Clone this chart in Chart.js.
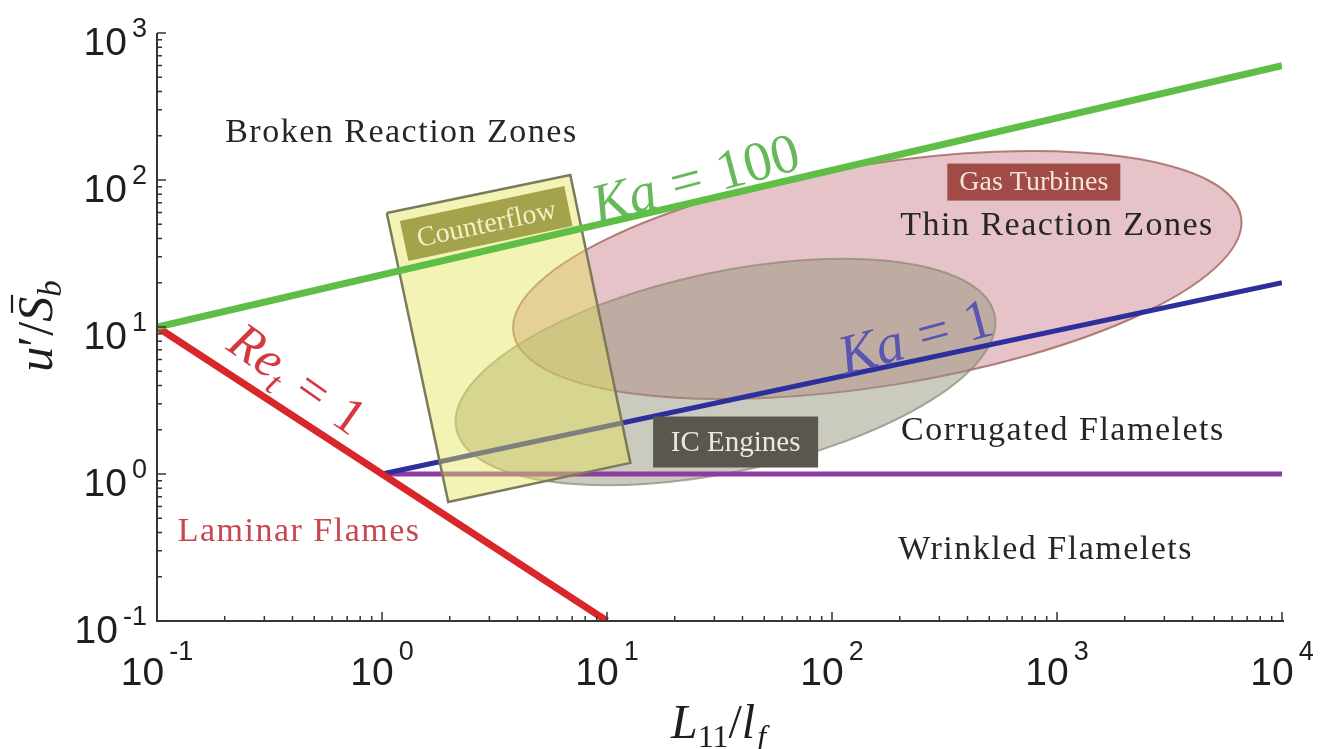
<!DOCTYPE html>
<html lang="en">
<head>
<meta charset="UTF-8">
<title>Premixed combustion regimes</title>
<script src="https://cdn.jsdelivr.net/npm/chart.js"></script>
<style>
  html, body { margin: 0; padding: 0; background: #fff; }
  #regime { display: block; }
</style>
</head>
<body>
<canvas id="regime" width="1321" height="749"></canvas>
<script>
// decades shown on the axes
const xDecades = [0.1, 1, 10, 100, 1000, 10000];
const yDecades = [0.1, 1, 10, 100, 1000];

// regime boundaries, L11/lf and u'/Sb at both ends
const ka100L = [0.1, 10000];
const ka100U = [10, 600];
const ka1L = [1, 10000];
const ka1U = [1, 20];
const reL = [0.1, 10];
const reU = [10, 0.1];
const flameletL = [1, 10000];
const flameletU = [1, 1];

// counterflow window, corners (closed)
const counterflowL = [1.05, 6.87, 12.7, 1.97, 1.05];
const counterflowU = [59.7, 108, 1.19, 0.645, 59.7];
const counterflowTagL = [1.2, 6.46, 7.02, 1.31, 1.2];
const counterflowTagU = [52.6, 91, 48.6, 28.1, 52.6];

// devices: ends of the long axis of each ellipse
const gasTurbineL = [3.84, 6580];
const gasTurbineU = [9.1, 56];
const icEngineL = [2.14, 528];
const icEngineU = [2.02, 12.1];

function pts(xs, ys) {
    return xs.map((x, i) => ({ x: x, y: ys[i] }));
}

const serif = s => s + 'px "Liberation Serif"';
const serifI = s => 'italic ' + s + 'px "Liberation Serif"';

const regions = [
    { l: gasTurbineL, u: gasTurbineU, halfWidth: 0.755, fill: 'rgba(200,120,135,0.45)', edge: 'rgba(160,100,90,0.8)' },
    { l: icEngineL, u: icEngineU, halfWidth: 0.68, fill: 'rgba(150,150,125,0.5)', edge: 'rgba(140,135,115,0.7)' }
];

const zoneLabels = [
    { text: 'Broken Reaction Zones', x: 1.22, y: 209, color: '#262626' },
    { text: 'Thin Reaction Zones', x: 1000, y: 48.6, color: '#262626' },
    { text: 'Corrugated Flamelets', x: 1062, y: 1.96, color: '#262626' },
    { text: 'Wrinkled Flamelets', x: 890, y: 0.304, color: '#262626' },
    { text: 'Laminar Flames', x: 0.428, y: 0.4, color: '#c8464f' }
];

const tagBoxes = [
    { text: 'Gas Turbines', x: 789, y: 96.8, w: 173, h: 37, size: 28, bg: '#a04b45', color: '#f3e4dc' },
    { text: 'IC Engines', x: 37.3, y: 1.65, w: 165, h: 51, size: 29, bg: '#5a584e', color: '#ece8dc' }
];

const mathLabels = [
    { x: 24.7, y: 102, angle: -15, color: '#66b85a', pieces: [
        { t: 'Ka', font: serifI(56) }, { t: ' = ', font: serif(56), gap: 4 }, { t: '100', font: serif(56) }] },
    { x: 235, y: 8.55, angle: -15, color: '#5a55b0', pieces: [
        { t: 'Ka', font: serifI(56) }, { t: ' = ', font: serif(56), gap: 4 }, { t: '1', font: serif(56) }] },
    { x: 0.424, y: 4.5, angle: 35, color: '#d23a40', pieces: [
        { t: 'Re', font: serifI(52) }, { t: 't', font: serifI(35), dy: 11 }, { t: ' = ', font: serif(52), gap: 8 }, { t: '1', font: serif(52) }] }
];

function drawPieces(ctx, pieces, cx, cy, angle, color, base) {
    ctx.save();
    ctx.translate(cx, cy);
    ctx.rotate(angle * Math.PI / 180);
    ctx.fillStyle = color;
    ctx.strokeStyle = color;
    ctx.textAlign = 'left';
    ctx.textBaseline = 'alphabetic';
    let total = 0;
    const widths = pieces.map(p => {
        ctx.font = p.font;
        const w = ctx.measureText(p.t).width + (p.gap || 0);
        total += w;
        return w;
    });
    let px = -total / 2;
    pieces.forEach((p, i) => {
        ctx.font = p.font;
        ctx.fillText(p.t, px + (p.gap || 0) / 2, base + (p.dy || 0));
        if (p.bar) {
            ctx.lineWidth = 2.2;
            ctx.beginPath();
            ctx.moveTo(px + 9, base - 40);
            ctx.lineTo(px + widths[i] + 2, base - 40);
            ctx.stroke();
        }
        px += widths[i];
    });
    ctx.restore();
}

// device ellipses under the boundary lines
const regionPlugin = {
    id: 'regions',
    beforeDatasetsDraw(chart) {
        const { ctx, scales: { x, y } } = chart;
        const decade = y.getPixelForValue(1) - y.getPixelForValue(10);
        regions.forEach(r => {
            const x1 = x.getPixelForValue(r.l[0]), y1 = y.getPixelForValue(r.u[0]);
            const x2 = x.getPixelForValue(r.l[1]), y2 = y.getPixelForValue(r.u[1]);
            ctx.save();
            ctx.beginPath();
            ctx.ellipse((x1 + x2) / 2, (y1 + y2) / 2, Math.hypot(x2 - x1, y2 - y1) / 2,
                r.halfWidth * decade, Math.atan2(y2 - y1, x2 - x1), 0, Math.PI * 2);
            ctx.fillStyle = r.fill;
            ctx.fill();
            ctx.lineWidth = 2;
            ctx.strokeStyle = r.edge;
            ctx.stroke();
            ctx.restore();
        });
    }
};

// labels, axes, ticks and titles on top
const annotatePlugin = {
    id: 'annotate',
    afterDatasetsDraw(chart) {
        const { ctx, scales: { x, y } } = chart;

        // counterflow caption, rotated with its window
        drawPieces(ctx, [{ t: 'Counterflow', font: serif(28) }], x.getPixelForValue(2.91), y.getPixelForValue(50.6), -12, '#f4efc8', 9);

        tagBoxes.forEach(b => {
            const cx = x.getPixelForValue(b.x), cy = y.getPixelForValue(b.y);
            ctx.fillStyle = b.bg;
            ctx.fillRect(cx - b.w / 2, cy - b.h / 2, b.w, b.h);
            ctx.font = serif(b.size);
            ctx.fillStyle = b.color;
            ctx.textAlign = 'center';
            ctx.textBaseline = 'middle';
            ctx.fillText(b.text, cx, cy + 1);
        });

        ctx.save();
        ctx.letterSpacing = '1.5px';
        zoneLabels.forEach(l => {
            ctx.font = serif(34);
            ctx.fillStyle = l.color;
            ctx.textAlign = 'center';
            ctx.textBaseline = 'middle';
            ctx.fillText(l.text, x.getPixelForValue(l.x), y.getPixelForValue(l.y));
        });
        ctx.restore();

        mathLabels.forEach(m => {
            drawPieces(ctx, m.pieces, x.getPixelForValue(m.x), y.getPixelForValue(m.y), m.angle, m.color, 18);
        });
    },
    afterDraw(chart) {
        const { ctx, chartArea: { left, right, top, bottom }, scales: { x, y } } = chart;
        ctx.save();
        ctx.strokeStyle = '#353535';
        ctx.lineWidth = 2;
        ctx.beginPath();
        ctx.moveTo(left, top);
        ctx.lineTo(left, bottom);
        ctx.lineTo(right + 2, bottom);
        ctx.stroke();

        ctx.lineWidth = 1.5;
        ctx.beginPath();
        xDecades.forEach((v, i) => {
            const px = x.getPixelForValue(v);
            ctx.moveTo(px, bottom); ctx.lineTo(px, bottom - 9);
            if (i < xDecades.length - 1) {
                for (let m = 2; m < 10; m++) {
                    const mx = x.getPixelForValue(v * m);
                    ctx.moveTo(mx, bottom); ctx.lineTo(mx, bottom - 5);
                }
            }
        });
        yDecades.forEach((v, i) => {
            const py = y.getPixelForValue(v);
            ctx.moveTo(left, py); ctx.lineTo(left + 9, py);
            if (i < yDecades.length - 1) {
                for (let m = 2; m < 10; m++) {
                    const my = y.getPixelForValue(v * m);
                    ctx.moveTo(left, my); ctx.lineTo(left + 5, my);
                }
            }
        });
        ctx.stroke();

        // power-of-ten tick labels
        ctx.fillStyle = '#1e1e1e';
        ctx.textAlign = 'left';
        ctx.textBaseline = 'alphabetic';
        const power = v => String(Math.round(Math.log10(v)));
        const big = '39px "Liberation Sans"', small = '27px "Liberation Sans"';
        const gap = 5;
        xDecades.forEach(v => {
            const px = x.getPixelForValue(v);
            ctx.font = big; const w10 = ctx.measureText('10').width;
            ctx.font = small; const we = ctx.measureText(power(v)).width;
            const sx = px - (w10 + we + gap) / 2;
            ctx.font = big; ctx.fillText('10', sx, bottom + 64);
            ctx.font = small; ctx.fillText(power(v), sx + w10 + gap, bottom + 39);
        });
        yDecades.forEach(v => {
            const py = y.getPixelForValue(v);
            ctx.font = big; const w10 = ctx.measureText('10').width;
            ctx.font = small; const we = ctx.measureText(power(v)).width;
            const sx = left - 10 - (w10 + we + gap);
            ctx.font = big; ctx.fillText('10', sx, py + 22);
            ctx.font = small; ctx.fillText(power(v), sx + w10 + gap, py + 4);
        });
        ctx.restore();

        // axis titles
        const mid = (left + right) / 2;
        drawPieces(ctx, [
            { t: 'L', font: serifI(48) }, { t: '11', font: serif(32), dy: 9 }, { t: '/', font: serif(48) },
            { t: 'l', font: serifI(48) }, { t: 'f', font: serifI(32), dy: 9, gap: 4 }
        ], mid, 738, 0, '#1e1e1e', 0);
        drawPieces(ctx, [
            { t: 'u', font: serifI(50) }, { t: '\u2032', font: serif(50) }, { t: '/', font: serif(50) },
            { t: 'S', font: serifI(50), bar: true }, { t: 'b', font: serifI(33), dy: 9 }
        ], 36, 326, -90, '#1e1e1e', 16);
    }
};

const chart = new Chart(document.getElementById('regime').getContext('2d'), {
    type: 'line',
    data: {
        datasets: [
            { data: pts(ka100L, ka100U), borderColor: '#5fbe46', borderWidth: 7, order: 0 },
            { data: pts(counterflowTagL, counterflowTagU), borderColor: 'rgba(0,0,0,0)', borderWidth: 0, backgroundColor: '#a5a24c', fill: 'shape', order: 1 },
            { data: pts(counterflowL, counterflowU), borderColor: '#7b7b5c', borderWidth: 2.5, backgroundColor: 'rgba(228,228,90,0.45)', fill: 'shape', order: 2 },
            { data: pts(reL, reU), borderColor: '#d8262b', borderWidth: 7, order: 3 },
            { data: pts(ka1L, ka1U), borderColor: '#2c2f9c', borderWidth: 5, order: 3 },
            { data: pts(flameletL, flameletU), borderColor: '#8e3ca3', borderWidth: 5, order: 3 }
        ]
    },
    options: {
        responsive: false,
        animation: false,
        events: [],
        layout: { padding: { left: 157, right: 39, top: 33, bottom: 128 } },
        elements: { point: { radius: 0 }, line: { tension: 0 } },
        plugins: { legend: { display: false }, tooltip: { enabled: false } },
        scales: {
            x: { type: 'logarithmic', min: 0.1, max: 10000, display: false },
            y: { type: 'logarithmic', min: 0.1, max: 1000, display: false }
        }
    },
    plugins: [regionPlugin, annotatePlugin]
});
</script>
</body>
</html>
